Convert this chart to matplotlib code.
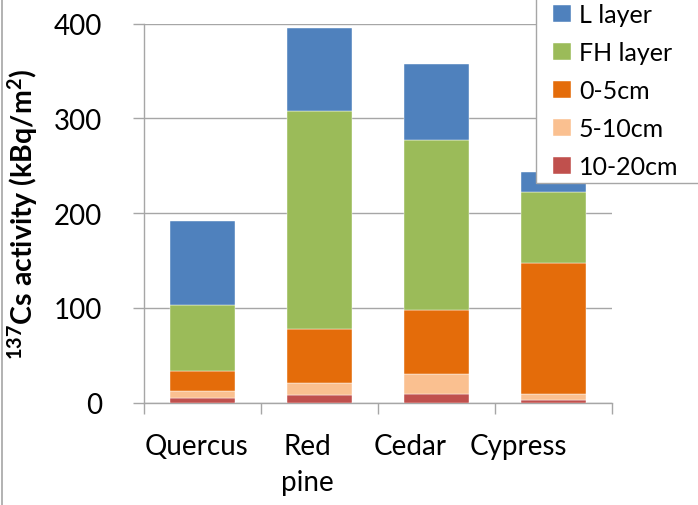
import matplotlib
matplotlib.use("Agg")
import matplotlib.pyplot as plt
import matplotlib.transforms as mtransforms
from matplotlib.patches import Rectangle
from matplotlib.lines import Line2D
import numpy as np

# data (kBq/m2)
species = ["Quercus", "Red\npine", "Cedar", "Cypress"]
layers = ["L layer", "FH layer", "0-5cm", "5-10cm", "10-20cm"]
soil_10_20 = [5.0, 7.8, 8.9, 2.8]
soil_5_10 = [7.3, 12.7, 21.4, 6.4]
soil_0_5 = [21.5, 57.2, 67.2, 138.2]
fh_layer = [69.6, 229.7, 179.6, 75.2]
l_layer = [88.3, 88.2, 79.9, 21.1]
colors = ["#4F81BD", "#9BBB59", "#E46C0A", "#FAC090", "#C0504D"]

plt.rcParams['font.family'] = ['Lato', 'DejaVu Sans']
plt.rcParams['mathtext.fontset'] = 'custom'
plt.rcParams['mathtext.bf'] = 'Lato:bold'
plt.rcParams['mathtext.rm'] = 'Lato'

W, H = 698, 506
fig = plt.figure(figsize=(W/100, H/100), dpi=100)
ax = fig.add_axes([144/W, 1-403.7/H, (611.7-144)/W, (403.7-24.5)/H])

x = np.arange(len(species))
w = 0.556
# stack from bottom up
stack = [soil_10_20, soil_5_10, soil_0_5, fh_layer, l_layer]
names = layers[::-1]
cols = colors[::-1]
bottom = np.zeros(len(species))
handles = {}
for vals, name, c in zip(stack, names, cols):
    b = ax.bar(x, vals, w, bottom=bottom, color=c, edgecolor="white", linewidth=0.3, zorder=3)
    handles[name] = b
    bottom += np.array(vals)

ax.set_ylim(0, 400)
ax.set_xlim(-0.5, 3.5)
ax.set_yticks([0, 100, 200, 300, 400])
ax.yaxis.grid(True, color="#a6a6a6", linewidth=1.0, zorder=0)
ax.set_axisbelow(True)

ax.set_xticks(np.arange(-0.5, 4.0, 1.0))
ax.set_xticklabels([])
ax.set_xticks(x, minor=True)
ax.set_xticklabels(species, minor=True, fontsize=20, linespacing=1.45)
ax.tick_params(axis="x", which="minor", length=0, pad=22)
ax.tick_params(axis="x", which="major", length=8, color="#a6a6a6", width=1.0)
ax.tick_params(axis="y", length=8, color="#a6a6a6", width=1.0, labelsize=20, pad=22)

# excel puts category labels slightly left of centre
shifts = [-6, -12, -26, -35]
for lab, dx in zip(ax.get_xticklabels(minor=True), shifts):
    lab.set_transform(lab.get_transform() + mtransforms.ScaledTranslation(dx/100, 0, fig.dpi_scale_trans))

for s in ["top", "right"]:
    ax.spines[s].set_visible(False)
for s in ["left", "bottom"]:
    ax.spines[s].set_color("#a6a6a6")
    ax.spines[s].set_linewidth(1.0)

ax.set_ylabel(r"$\mathbf{^{137}}$Cs activity (kBq/m$\mathbf{^{2}}$)", fontsize=20.5, fontweight="bold", labelpad=10)

# legend box runs off the top and right of the picture
fig.add_artist(Rectangle((536/W, 1-184/H), 0.5, 0.5, transform=fig.transFigure,
                         facecolor="white", edgecolor="#a6a6a6", linewidth=1.0, zorder=4))
leg = fig.legend([handles[n] for n in layers], layers, loc="lower left",
                 bbox_to_anchor=(553/W, 1-179/H), fontsize=18,
                 handlelength=0.7, handleheight=0.7, handletextpad=0.33,
                 labelspacing=0.6, borderpad=0, borderaxespad=0, frameon=False)
leg.set_zorder(5)

fig.add_artist(Line2D([1.5/W, 1.5/W], [0, 1], transform=fig.transFigure, color="#a6a6a6", linewidth=1.2))

fig.savefig("out.png", dpi=100)
